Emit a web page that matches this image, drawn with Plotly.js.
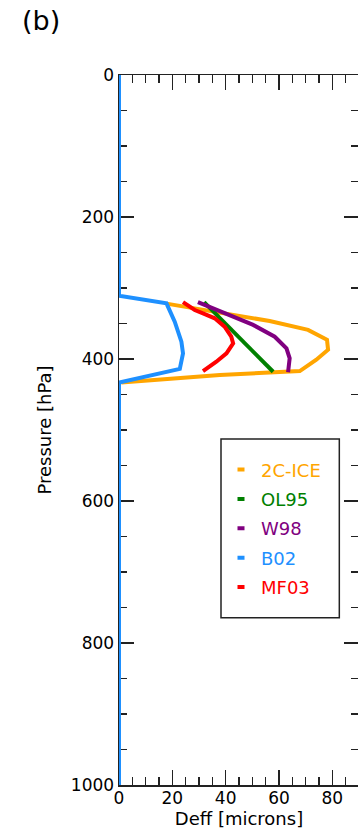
<!DOCTYPE html>
<html>
<head>
<meta charset="utf-8">
<script src="https://cdn.plot.ly/plotly-3.0.1.min.js"></script>
<style>
html,body{margin:0;padding:0;overflow:hidden;background:#fff;}
#chart{width:362px;height:829px;}
</style>
</head>
<body>
<div id="chart"></div>
<script>
// Series names and colours
const seriesNames = ['2C-ICE', 'OL95', 'W98', 'B02', 'MF03'];
const seriesColors = ['#FFA500', '#008000', '#800080', '#1E90FF', '#FF0000'];

// 2C-ICE
const ice2cDeff = [17.8, 32.1, 56.5, 70.9, 78.0, 78.4, 74.0, 67.8, 57.8, 37.8, 0.9];
const ice2cPres = [322, 331, 346.5, 359, 373, 387, 401, 417, 418.7, 422.5, 433];
// OL95
const ol95Deff = [31.9, 45.3, 57.8];
const ol95Pres = [320, 370.8, 418];
// W98
const w98Deff = [29.6, 37.8, 50.3, 58.4, 62.8, 64.0, 63.4];
const w98Pres = [320, 333, 352, 368.6, 385, 399, 418.7];
// B02
const b02Deff = [0, 0, 17.8, 20.9, 23.4, 24.0, 22.8, 0.6, 0, 0];
const b02Pres = [0, 311, 321.6, 347.5, 375.6, 392, 414, 432, 433, 1000];
// MF03
const mf03Deff = [24.0, 28.4, 31.5, 35.9, 39.6, 42.1, 42.8, 40.3, 36.5, 31.5];
const mf03Pres = [320, 331, 335.7, 342.7, 354.5, 368.6, 378, 392, 403.8, 417];

const xTitle = 'Deff [microns]';
const yTitle = 'Pressure [hPa]';
const panelLabel = '(b)';

const allDeff = [ice2cDeff, ol95Deff, w98Deff, b02Deff, mf03Deff];
const allPres = [ice2cPres, ol95Pres, w98Pres, b02Pres, mf03Pres];

const FONT = 'DejaVu Sans, sans-serif';
const traces = [];
for (let i = 0; i < seriesNames.length; i++) {
  traces.push({
    x: allDeff[i], y: allPres[i], type: 'scatter', mode: 'lines',
    line: {color: seriesColors[i], width: 4},
    showlegend: false, hoverinfo: 'skip'
  });
}
// legend entries (short dash symbols)
for (let i = 0; i < seriesNames.length; i++) {
  traces.push({
    x: [null], y: [null], type: 'scatter', mode: 'markers',
    name: '<span style="color:' + seriesColors[i] + '">' + seriesNames[i] + '</span>',
    legendgroup: 'g' + i,
    marker: {symbol: 'line-ew-open', size: 5, color: seriesColors[i],
             line: {color: seriesColors[i], width: 4}},
    showlegend: true
  });
}

const tickCol = '#222';
const axisCommon = {
  showline: true, linecolor: tickCol, linewidth: 1.5, mirror: 'allticks',
  ticks: 'inside', ticklen: 15, tickwidth: 1.5, tickcolor: tickCol,
  minor: {ticks: 'inside', ticklen: 8, tickwidth: 1.5, tickcolor: tickCol, showgrid: false},
  showgrid: false, zeroline: false, layer: 'below traces',
  tickfont: {family: FONT, size: 17, color: '#000'}
};

const layout = {
  width: 362, height: 829,
  margin: {l: 119, r: 3, t: 75, b: 44},
  paper_bgcolor: '#fff', plot_bgcolor: '#fff',
  font: {family: FONT, color: '#000'},
  title: {text: panelLabel, font: {family: FONT, size: 27, color: '#000'},
          xref: 'container', x: 22 / 362, xanchor: 'left',
          yref: 'container', y: 1 - 21 / 829, yanchor: 'middle'},
  xaxis: Object.assign({}, axisCommon, {
    range: [0, 90], tick0: 0, dtick: 20, ticklabelstandoff: -3,
    minor: Object.assign({}, axisCommon.minor, {dtick: 5}),
    title: {text: xTitle, font: {family: FONT, size: 18, color: '#000'}, standoff: 6}
  }),
  yaxis: Object.assign({}, axisCommon, {
    range: [1000, 0], tick0: 0, dtick: 200,
    minor: Object.assign({}, axisCommon.minor, {dtick: 50}),
    title: {text: yTitle, font: {family: FONT, size: 18, color: '#000'}, standoff: 14}
  }),
  showlegend: true,
  legend: {
    x: 0.425, xanchor: 'left', y: 0.47, yanchor: 'top',
    bgcolor: 'rgba(0,0,0,0)', borderwidth: 0,
    font: {family: FONT, size: 18}, traceorder: 'grouped', tracegroupgap: 3
  },
  shapes: [{
    type: 'rect', xref: 'paper', yref: 'paper',
    x0: 0.425, x1: 0.918, y0: 0.2356, y1: 0.4873,
    line: {color: '#222', width: 1.5}, fillcolor: 'rgba(0,0,0,0)', layer: 'below'
  }]
};

Plotly.newPlot('chart', traces, layout, {staticPlot: true, displayModeBar: false});
</script>
</body>
</html>
